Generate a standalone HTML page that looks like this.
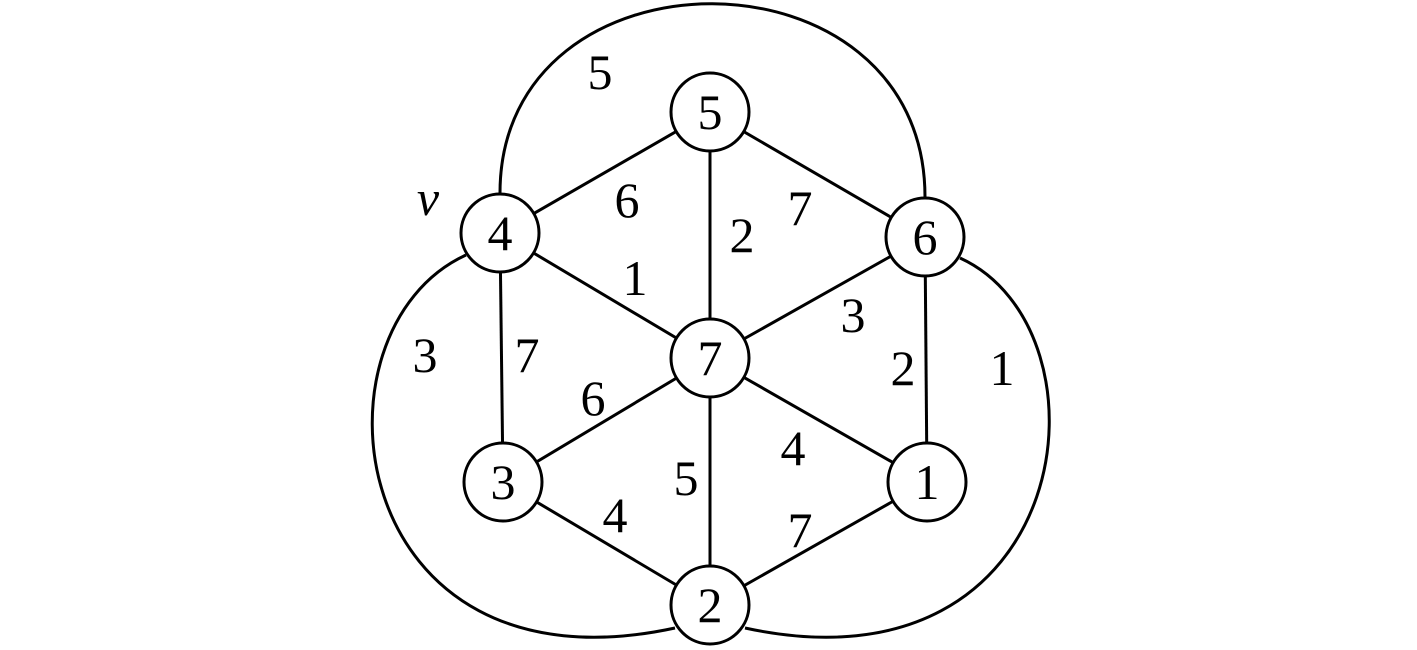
<!DOCTYPE html>
<html><head><style>
html,body{margin:0;padding:0;background:#fff;}
svg{display:block}
text{font-family:"Liberation Serif",serif;font-size:50px;fill:#000;text-anchor:middle;dominant-baseline:central}
</style></head><body>
<svg width="1417" height="650" viewBox="0 0 1417 650" xmlns="http://www.w3.org/2000/svg">
<g stroke="#000" stroke-width="3" fill="none">
<path d="M500,193 C500,-60 925,-60 925,197"/>
<path d="M466,255 C302,330 342,700 675,628"/>
<path d="M960,258 C1118,330 1078,700 745,628"/>
<line x1="710" y1="112" x2="710" y2="358"/>
<line x1="710" y1="358" x2="710" y2="605"/>
<line x1="500" y1="233" x2="710" y2="112"/>
<line x1="710" y1="112" x2="925" y2="237"/>
<line x1="500" y1="233" x2="710" y2="358"/>
<line x1="925" y1="237" x2="710" y2="358"/>
<line x1="500" y1="233" x2="503" y2="482"/>
<line x1="925" y1="237" x2="927" y2="482"/>
<line x1="503" y1="482" x2="710" y2="358"/>
<line x1="927" y1="482" x2="710" y2="358"/>
<line x1="503" y1="482" x2="710" y2="605"/>
<line x1="927" y1="482" x2="710" y2="605"/>
</g>
<g stroke="#000" stroke-width="3" fill="#fff">
<circle cx="710" cy="112" r="39"/>
<circle cx="500" cy="233" r="39"/>
<circle cx="925" cy="237" r="39"/>
<circle cx="710" cy="358" r="39"/>
<circle cx="503" cy="482" r="39"/>
<circle cx="927" cy="482" r="39"/>
<circle cx="710" cy="605" r="39"/>
</g>
<text x="710" y="112">5</text>
<text x="500" y="233">4</text>
<text x="925" y="237">6</text>
<text x="710" y="358">7</text>
<text x="503" y="482">3</text>
<text x="927" y="482">1</text>
<text x="710" y="605">2</text>
<text x="600" y="72">5</text>
<text x="428" y="198" font-style="italic">v</text>
<text x="627" y="200">6</text>
<text x="800" y="208">7</text>
<text x="742" y="235">2</text>
<text x="635" y="278">1</text>
<text x="853" y="315">3</text>
<text x="425" y="355">3</text>
<text x="527" y="355">7</text>
<text x="903" y="368">2</text>
<text x="1002" y="368">1</text>
<text x="593" y="398">6</text>
<text x="793" y="448">4</text>
<text x="686" y="478">5</text>
<text x="615" y="515">4</text>
<text x="800" y="530">7</text>
</svg>
</body></html>
